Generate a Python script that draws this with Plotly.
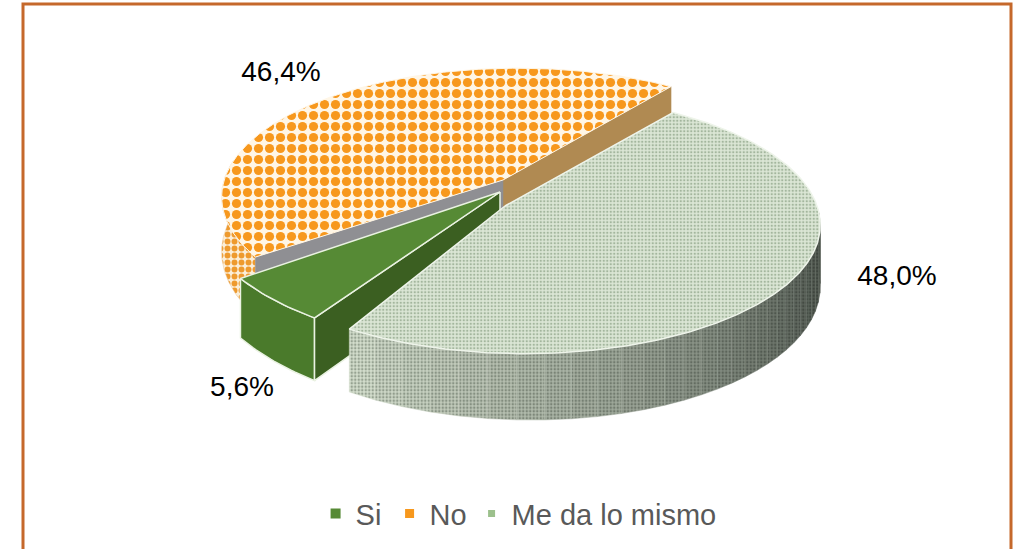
import math
import plotly.graph_objects as go

# Data
categories = ["Si", "No", "Me da lo mismo"]
values = [5.6, 46.4, 48.0]
labels = ["5,6%", "46,4%", "48,0%"]

# Look of the tilted, exploded pie
START = 210.0
WARP_AMP, WARP_PHASE = 8.0, 35.0
RX, RY, KV, KU, DEPTH = 299.0, 129.0, 0.14, 0.057, 57.0
APEX = {"Si": (500, 192), "No": (503, 180), "Me da lo mismo": (505, 206)}
SCALE = {"Si": 1.05, "No": 0.985, "Me da lo mismo": 0.985}
INSET = {"Si": (3.0, 1.5), "No": (0.0, 0.0), "Me da lo mismo": (0.0, 0.0)}
LABEL_POS = {"Si": (242, 389), "No": (281, 74), "Me da lo mismo": (897, 278)}
LEGEND_WIDTH = {"Si": 29, "No": 37, "Me da lo mismo": 210}
FONT = "Liberation Sans"
EDGE = "#eaf2e2"

spans = {}
a = START
for c, v in zip(categories, values):
    end = a + v / sum(values) * 360.0
    spans[c] = (a + INSET[c][0], end - INSET[c][1])
    a = end


def pt(cat, deg, r=1.0, drop=False):
    ax, ay = APEX[cat]
    r = r * SCALE[cat]
    d = math.radians(deg + WARP_AMP * math.sin(math.radians(2 * (deg - WARP_PHASE))))
    u = r * math.sin(d)
    w = -r * math.cos(d)
    s = 1.0 / (1.0 - KV * w - KU * u)
    return ax + RX * u * s, ay + RY * w * s + (DEPTH * s if drop else 0.0)


def arc(cat, d0, d1, drop=False, n=None):
    n = n or max(2, int(abs(d1 - d0) * 1.5))
    return [pt(cat, d0 + (d1 - d0) * i / n, 1.0, drop) for i in range(n + 1)]


fig = go.Figure()


def poly(points, color=None, line=None, pattern=None, lw=1.5):
    xs = [p[0] for p in points] + [points[0][0]]
    ys = [p[1] for p in points] + [points[0][1]]
    kw = dict(fillpattern=pattern) if pattern else {}
    fig.add_trace(go.Scatter(
        x=xs, y=ys, mode="lines", fill="toself", fillcolor=color or "rgba(0,0,0,0)",
        line=dict(color=line or color or "rgba(0,0,0,0)", width=lw),
        hoverinfo="skip", showlegend=False, **kw))


def side(cat, d0, d1, **kw):
    poly(arc(cat, d0, d1) + arc(cat, d1, d0, True), **kw)


def radial(cat, deg, **kw):
    poly([pt(cat, deg, 0.0), pt(cat, deg), pt(cat, deg, 1.0, True), pt(cat, deg, 0.0, True)], **kw)


def top(cat, **kw):
    d0, d1 = spans[cat]
    poly([pt(cat, d0, 0.0)] + arc(cat, d0, d1), **kw)


ORANGE = dict(shape=".", fgcolor="#f7981d", bgcolor="#fff6e6", size=11, solidity=0.55, fgopacity=1)
ORANGE_SIDE = dict(shape=".", fgcolor="#ee9a2e", bgcolor="#fbeed8", size=7, solidity=0.55, fgopacity=1)

# No
d0, d1 = spans["No"]
side("No", d0, 272, pattern=ORANGE_SIDE, color="#fbeed8", line="#e8c79a", lw=0.5)
radial("No", d1 - 360, color="#b08a52", line="#b08a52", lw=0.5)
radial("No", d0, color="#8f8f93", line="#8f8f93", lw=0.5)
top("No", pattern=ORANGE, color="#fff6e6", line="#fff6e6", lw=1)

# Si
d0, d1 = spans["Si"]
side("Si", d0, d1, color="#4a7a2b", line=EDGE)
radial("Si", d0, color="#3b5f21", line=EDGE)
top("Si", color="#568a35", line=EDGE)

# Me da lo mismo
d0, d1 = spans["Me da lo mismo"]
low, high = 85.0, d1 - 360.0
bands = 30
for i in range(bands):
    t = i / (bands - 1)
    g = min(1.0, t ** 1.3)
    col = "#%02x%02x%02x" % (int(76 + (212 - 76) * g), int(84 + (222 - 84) * g), int(76 + (205 - 76) * g))
    fg = "#%02x%02x%02x" % (int(56 + (150 - 56) * g), int(62 + (162 - 62) * g), int(56 + (145 - 56) * g))
    side("Me da lo mismo", low + (high - low) * i / bands, low + (high - low) * (i + 1) / bands,
         color=col, line=col, lw=0.5,
         pattern=dict(shape=".", fgcolor=fg, bgcolor=col, size=3.5, solidity=0.4, fgopacity=1))
top("Me da lo mismo", color="#d8e4d2", line="#eef4ea",
    pattern=dict(shape=".", fgcolor="#a3b69d", bgcolor="#dbe6d5", size=3.5, solidity=0.35, fgopacity=1))

# Percentage labels
fig.add_trace(go.Scatter(
    x=[LABEL_POS[c][0] for c in categories], y=[LABEL_POS[c][1] for c in categories],
    mode="text", text=labels, textposition="middle center",
    textfont=dict(family=FONT, size=28, color="#000000"),
    hoverinfo="skip", showlegend=False))

# Legend entries
legend_colors = ["#568a35", "#f7981d", "#9cc08c"]
legend_sizes = [10, 9, 7]
for c, col, sz in zip(categories, legend_colors, legend_sizes):
    fig.add_trace(go.Scatter(
        x=[None], y=[None], mode="markers", name=c, legendwidth=LEGEND_WIDTH[c],
        marker=dict(symbol="square", size=sz, color=col)))

fig.add_shape(type="rect", x0=23, y0=4, x1=1011, y1=560, xref="x", yref="y",
              line=dict(color="#c5682b", width=3), fillcolor="rgba(0,0,0,0)")

fig.update_layout(
    width=1018, height=549, margin=dict(l=0, r=0, t=0, b=0),
    paper_bgcolor="#ffffff", plot_bgcolor="#ffffff",
    font=dict(family=FONT),
    xaxis=dict(range=[0, 1018], visible=False, fixedrange=True),
    yaxis=dict(range=[549, 0], visible=False, fixedrange=True),
    legend=dict(orientation="h", x=0.31, xanchor="left", y=0.018, yanchor="bottom",
                font=dict(family=FONT, size=29, color="#595959"),
                bgcolor="rgba(0,0,0,0)", itemwidth=30),
)

fig.write_html("out.html", config={"displayModeBar": False},
               post_script="document.body.style.margin='0';document.body.style.overflow='hidden';")
